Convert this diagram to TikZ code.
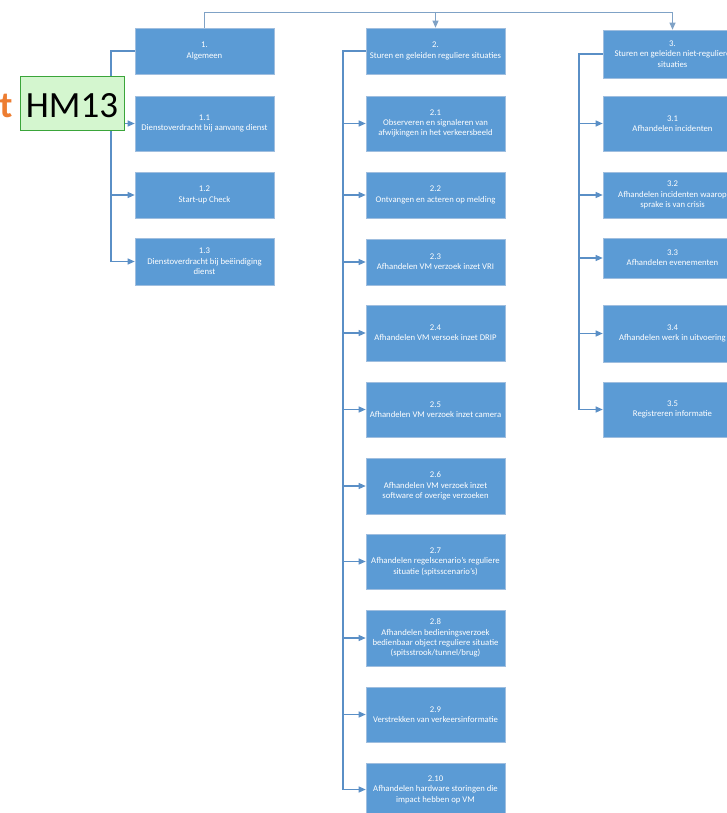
\documentclass[tikz,border=0pt]{standalone}
\usepackage{fontspec}
\setmainfont{Carlito}
\usetikzlibrary{arrows.meta}

\definecolor{boxblue}{HTML}{5B9BD5}
\definecolor{boxedge}{HTML}{9FBEDF}
\definecolor{linkblue}{HTML}{5A8FC6}
\definecolor{railblue}{HTML}{7FA2C6}
\definecolor{hmfill}{HTML}{D4F6CF}
\definecolor{hmedge}{HTML}{3AA53A}
\definecolor{tagorange}{HTML}{ED7D31}

\tikzset{
  task/.style={draw=boxedge, line width=0.6pt, fill=boxblue, text=white,
    minimum width=139pt, inner sep=0pt, align=center,
    font=\fontsize{8.7}{10.4}\selectfont},
  link/.style={draw=linkblue, line width=1.1pt},
  arr/.style={link, -{Triangle[length=7pt,width=6pt]}},
  rail/.style={draw=railblue, line width=0.9pt},
  hmbox/.style={draw=hmedge, line width=1pt, fill=hmfill,
    minimum width=104pt, minimum height=54pt, inner sep=0pt},
  bigtext/.style={inner sep=0pt, font=\fontsize{37}{40}\selectfont}
}

\begin{document}
\begin{tikzpicture}[x=1pt, y=-1pt]
\clip (0,0) rectangle (727,813);

% column 1
\node[task, minimum height=46pt] (b1)  at (204.5,51)    {1.\\Algemeen};
\node[task, minimum height=55pt] (b11) at (204.5,123.5) {1.1\\Dienstoverdracht bij aanvang dienst};
\node[task, minimum height=46pt] (b12) at (204.5,195)   {1.2\\Start-up Check};
\node[task, minimum height=47pt] (b13) at (204.5,261.5) {1.3\\Dienstoverdracht bij beëindiging\\dienst};

% column 2
\node[task, minimum height=46pt] (b2)   at (435.5,51)    {2.\\Sturen en geleiden reguliere situaties};
\node[task, minimum height=55pt] (b21)  at (435.5,123.5) {2.1\\Observeren en signaleren van\\afwijkingen in het verkeersbeeld};
\node[task, minimum height=46pt] (b22)  at (435.5,195)   {2.2\\Ontvangen en acteren op melding};
\node[task, minimum height=46pt] (b23)  at (435.5,262)   {2.3\\Afhandelen VM verzoek inzet VRI};
\node[task, minimum height=56pt] (b24)  at (435.5,333)   {2.4\\Afhandelen VM versoek inzet DRIP};
\node[task, minimum height=55pt] (b25)  at (435.5,409.5) {2.5\\Afhandelen VM verzoek inzet camera};
\node[task, minimum height=56pt] (b26)  at (435.5,486)   {2.6\\Afhandelen VM verzoek inzet\\software of overige verzoeken};
\node[task, minimum height=55pt] (b27)  at (435.5,561.5) {2.7\\Afhandelen regelscenario's reguliere\\situatie (spitsscenario's)};
\node[task, minimum height=56pt] (b28)  at (435.5,638)   {2.8\\Afhandelen bedieningsverzoek\\bedienbaar object reguliere situatie\\(spitsstrook/tunnel/brug)};
\node[task, minimum height=55pt] (b29)  at (435.5,714.5) {2.9\\Verstrekken van verkeersinformatie};
\node[task, minimum height=53pt] (b210) at (435.5,789.5) {2.10\\Afhandelen hardware storingen die\\impact hebben op VM};

% column 3
\node[task, minimum height=48pt] (b3)  at (672.5,54)    {3.\\Sturen en geleiden niet-reguliere\\situaties};
\node[task, minimum height=55pt] (b31) at (672.5,123.5) {3.1\\Afhandelen incidenten};
\node[task, minimum height=46pt] (b32) at (672.5,195)   {3.2\\Afhandelen incidenten waarop\\sprake is van crisis};
\node[task, minimum height=40pt] (b33) at (672.5,258)   {3.3\\Afhandelen evenementen};
\node[task, minimum height=57pt] (b34) at (672.5,333.5) {3.4\\Afhandelen werk in uitvoering};
\node[task, minimum height=55pt] (b35) at (672.5,409.5) {3.5\\Registreren informatie};

% top rail linking the three main tasks
\coordinate (railL) at (204.5,12);
\coordinate (railR) at (672.5,12);
\draw[rail, -{Triangle[length=7pt,width=6pt]}] (b1.north) -- (railL) -- (railR) -- (b3.north);
\draw[rail, -{Triangle[length=7pt,width=6pt]}] (b2.north |- railL) -- (b2.north);

% trunks down the left side of each column
\coordinate (k1) at (111,0);
\coordinate (k2) at (343,0);
\coordinate (k3) at (579,0);
\draw[link] (b1.west) -| (k1 |- b13.west);
\draw[link] (b2.west) -| (k2 |- b210.west);
\draw[link] (b3.west) -| (k3 |- b35.west);

\foreach \c in {b11,b12,b13}
  \draw[arr] (k1 |- \c.west) -- (\c.west);
\foreach \c in {b21,b22,b23,b24,b25,b26,b27,b28,b29,b210}
  \draw[arr] (k2 |- \c.west) -- (\c.west);
\foreach \c in {b31,b32,b33,b34,b35}
  \draw[arr] (k3 |- \c.west) -- (\c.west);

% green tag over the first trunk
\node[hmbox] (hm) at (72,104) {};
\node[bigtext, anchor=base] (hmlabel) at (72,118) {HM13};
\node[bigtext, anchor=base west, text=tagorange, font=\fontsize{37}{40}\selectfont\bfseries] (tagt) at (-0.5,118) {t};
\end{tikzpicture}
\end{document}
